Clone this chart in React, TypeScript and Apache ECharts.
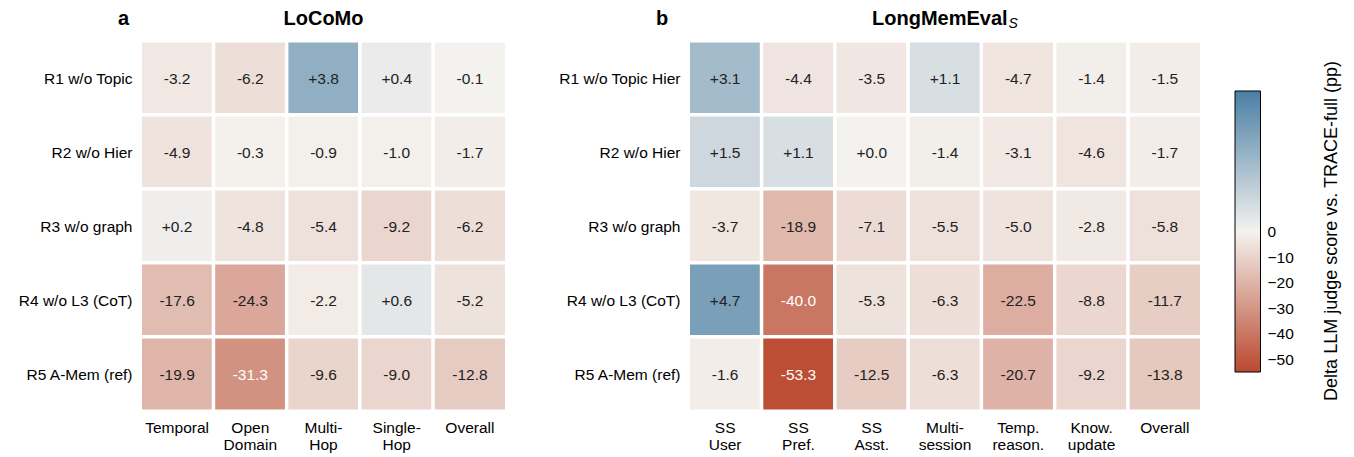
import React, { useEffect, useRef } from "react";
import * as echarts from "echarts";

const rowsA = ["R1 w/o Topic", "R2 w/o Hier", "R3 w/o graph", "R4 w/o L3 (CoT)", "R5 A-Mem (ref)"];
const colsA = ["Temporal", "Open\nDomain", "Multi-\nHop", "Single-\nHop", "Overall"];
const valsA = [
  [-3.2, -6.2, 3.8, 0.4, -0.1],
  [-4.9, -0.3, -0.9, -1.0, -1.7],
  [0.2, -4.8, -5.4, -9.2, -6.2],
  [-17.6, -24.3, -2.2, 0.6, -5.2],
  [-19.9, -31.3, -9.6, -9.0, -12.8],
];

const rowsB = ["R1 w/o Topic Hier", "R2 w/o Hier", "R3 w/o graph", "R4 w/o L3 (CoT)", "R5 A-Mem (ref)"];
const colsB = ["SS\nUser", "SS\nPref.", "SS\nAsst.", "Multi-\nsession", "Temp.\nreason.", "Know.\nupdate", "Overall"];
const valsB = [
  [3.1, -4.4, -3.5, 1.1, -4.7, -1.4, -1.5],
  [1.5, 1.1, 0.0, -1.4, -3.1, -4.6, -1.7],
  [-3.7, -18.9, -7.1, -5.5, -5.0, -2.8, -5.8],
  [4.7, -40.0, -5.3, -6.3, -22.5, -8.8, -11.7],
  [-1.6, -53.3, -12.5, -6.3, -20.7, -9.2, -13.8],
];

const cbTicks = [0, -10, -20, -30, -40, -50];
const VMIN = -55;
const VMAX = 6.5;
const C_NEG = "#b9492f";
const C_MID = "#f4f2ee";
const C_POS = "#4a7fa5";

const FONT = "'Liberation Sans', Arial, Helvetica, sans-serif";

function norm(v: number) {
  return v < 0 ? 0.5 - (0.5 * v) / VMIN : 0.5 + (0.5 * v) / VMAX;
}
function fmt(v: number) {
  if (v >= 0) return "+" + v.toFixed(1);
  return v.toFixed(1);
}
function buildData(vals: number[][]) {
  const out: any[] = [];
  vals.forEach((row, r) =>
    row.forEach((v, c) => {
      out.push({
        value: [c, r, v, norm(v)],
        label: { color: v < -30 ? "#ffffff" : "#222222" },
      });
    })
  );
  return out;
}

export default function App() {
  const ref = useRef<HTMLDivElement>(null);
  useEffect(() => {
    if (!ref.current) return;
    const chart = echarts.init(ref.current, null, { renderer: "svg" });
    const cellStyle = { borderColor: "#ffffff", borderWidth: 3.5 };
    const cellLabel = {
      show: true,
      fontSize: 15.5,
      fontFamily: FONT,
      formatter: (p: any) => fmt(p.value[2]),
    };
    const xLab = { fontSize: 15.5, lineHeight: 17, color: "#000", fontFamily: FONT, margin: 8, interval: 0 };
    const yLab = { fontSize: 15.5, color: "#000", fontFamily: FONT, margin: 8, interval: 0 };
    const hidden = { show: false };
    const option: any = {
      animation: false,
      backgroundColor: "#ffffff",
      grid: [
        { left: 140.5, top: 41, width: 366, height: 370 },
        { left: 688.5, top: 41, width: 513, height: 370 },
        { left: 1235, top: 231.5, width: 25.5, height: 140.5 },
      ],
      xAxis: [
        { type: "category", gridIndex: 0, data: colsA, axisLine: hidden, axisTick: hidden, axisLabel: xLab, splitLine: hidden },
        { type: "category", gridIndex: 1, data: colsB, axisLine: hidden, axisTick: hidden, axisLabel: xLab, splitLine: hidden },
        { type: "value", gridIndex: 2, show: false },
      ],
      yAxis: [
        { type: "category", gridIndex: 0, data: rowsA, inverse: true, axisLine: hidden, axisTick: hidden, axisLabel: yLab, splitLine: hidden },
        { type: "category", gridIndex: 1, data: rowsB, inverse: true, axisLine: hidden, axisTick: hidden, axisLabel: yLab, splitLine: hidden },
        {
          type: "value",
          gridIndex: 2,
          min: VMIN,
          max: 0,
          position: "right",
          axisLine: hidden,
          splitLine: hidden,
          axisTick: { show: true, length: 4, customValues: cbTicks, lineStyle: { color: "#000", width: 1 } },
          axisLabel: {
            customValues: cbTicks,
            fontSize: 15.5,
            color: "#000",
            fontFamily: FONT,
            margin: 7,
            formatter: (v: number) => (v < 0 ? "\u2212" + Math.abs(v) : String(v)),
          },
        },
      ],
      visualMap: {
        type: "continuous",
        show: false,
        dimension: 3,
        min: 0,
        max: 1,
        seriesIndex: [0, 1],
        inRange: { color: [C_NEG, C_MID, C_POS] },
      },
      series: [
        { type: "heatmap", xAxisIndex: 0, yAxisIndex: 0, data: buildData(valsA), itemStyle: cellStyle, label: cellLabel, emphasis: { disabled: true } },
        { type: "heatmap", xAxisIndex: 1, yAxisIndex: 1, data: buildData(valsB), itemStyle: cellStyle, label: cellLabel, emphasis: { disabled: true } },
        { type: "scatter", xAxisIndex: 2, yAxisIndex: 2, data: [] },
      ],
      graphic: [
        {
          type: "rect",
          shape: { x: 1235, y: 91, width: 25.5, height: 281 },
          style: {
            fill: new echarts.graphic.LinearGradient(0, 0, 0, 1, [
              { offset: 0, color: C_POS },
              { offset: 0.5, color: C_MID },
              { offset: 1, color: C_NEG },
            ]),
            stroke: "#000",
            lineWidth: 1,
          },
          z: 10,
        },
        {
          type: "text",
          x: 1331,
          y: 231,
          rotation: Math.PI / 2,
          style: {
            text: "Delta LLM judge score vs. TRACE-full (pp)",
            fontSize: 18,
            fontFamily: FONT,
            fill: "#000",
            align: "center",
            verticalAlign: "middle",
          },
        },
        {
          type: "text",
          x: 118,
          y: 18,
          style: { text: "a", fontSize: 20, fontWeight: "bold", fontFamily: FONT, fill: "#000", align: "left", verticalAlign: "middle" },
        },
        {
          type: "text",
          x: 323.5,
          y: 18,
          style: { text: "LoCoMo", fontSize: 20, fontWeight: "bold", fontFamily: FONT, fill: "#000", align: "center", verticalAlign: "middle" },
        },
        {
          type: "text",
          x: 656,
          y: 18,
          style: { text: "b", fontSize: 20, fontWeight: "bold", fontFamily: FONT, fill: "#000", align: "left", verticalAlign: "middle" },
        },
        {
          type: "text",
          x: 945,
          y: 18,
          style: {
            text: "{m|LongMemEval}{s|S}",
            align: "center",
            verticalAlign: "middle",
            rich: {
              m: { fontSize: 20, fontWeight: "bold", fontFamily: FONT, fill: "#000" },
              s: { fontSize: 14, fontStyle: "italic", fontFamily: FONT, fill: "#000", padding: [10, 0, 0, 1] },
            },
          },
        },
      ],
    };
    chart.setOption(option);
    return () => chart.dispose();
  }, []);
  return (
    <div
      ref={ref}
      style={{ position: "fixed", left: 0, top: 0, width: 1354, height: 457, background: "#fff" }}
    />
  );
}
